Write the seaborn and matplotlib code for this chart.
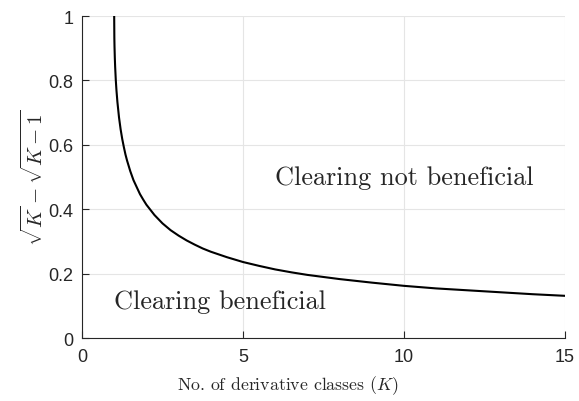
import matplotlib
matplotlib.use("Agg")
import matplotlib.pyplot as plt
import seaborn as sns

k_vals = [1, 1.005, 1.01, 1.02, 1.03, 1.05, 1.07, 1.1, 1.15, 1.2, 1.25, 1.3,
          1.35, 1.4, 1.5, 1.6, 1.8, 1.9, 2, 2.25, 2.5, 2.75, 3, 3.25, 3.5,
          3.75, 4, 4.5, 5, 5.5, 6, 6.5, 7, 8, 9, 10, 11, 12, 13, 14, 15]
y_vals = [1.0, 0.932, 0.905, 0.869, 0.842, 0.801, 0.770, 0.733, 0.685, 0.648,
          0.618, 0.593, 0.570, 0.551, 0.518, 0.490, 0.447, 0.430, 0.414, 0.382,
          0.356, 0.335, 0.318, 0.303, 0.290, 0.278, 0.268, 0.251, 0.236, 0.224,
          0.213, 0.204, 0.196, 0.183, 0.172, 0.162, 0.154, 0.148, 0.142, 0.136,
          0.131]

x_ticks = [0, 5, 10, 15]
y_ticks = [0, 0.2, 0.4, 0.6, 0.8, 1]
y_tick_labels = ["0", "0.2", "0.4", "0.6", "0.8", "1"]

sns.set_style("whitegrid")
plt.rcParams["mathtext.fontset"] = "cm"
plt.rcParams["axes.unicode_minus"] = False

fig = plt.figure(figsize=(5.79, 4.02), dpi=100)
ax = fig.add_axes([0.1416, 0.1567, 0.8342, 0.801])

sns.lineplot(x=k_vals, y=y_vals, sort=False, color="black", linewidth=1.5, ax=ax)

ax.set_xlim(0, 15)
ax.set_ylim(0, 1)
ax.set_xticks(x_ticks)
ax.set_xticklabels([str(t) for t in x_ticks])
ax.set_yticks(y_ticks)
ax.set_yticklabels(y_tick_labels)

ax.grid(True, color="#e5e5e5", linewidth=0.8)
for s in ["top", "right"]:
    ax.spines[s].set_visible(False)
for s in ["left", "bottom"]:
    ax.spines[s].set_color("#262626")
    ax.spines[s].set_linewidth(0.8)

ax.tick_params(direction="in", length=5, width=0.8, color="#262626",
               labelcolor="#262626", labelsize=13, left=True, bottom=True)
ax.tick_params(axis="x", pad=7)
ax.tick_params(axis="y", pad=6)
for lab in ax.get_xticklabels() + ax.get_yticklabels():
    lab.set_family("Liberation Sans")

ax.set_xlabel("No. of derivative classes $(K)$", family="cmr10",
              fontsize=12.8, color="#262626")
ax.xaxis.set_label_coords(0.4265, -0.108)
ax.set_ylabel(r"$\sqrt{K}-\sqrt{K-1}$", fontsize=15, color="#262626")
ax.yaxis.set_label_coords(-0.072, 0.5)

ax.text(6, 0.5, "Clearing not beneficial", family="cmr10", fontsize=18.9,
        va="center", ha="left")
ax.text(1, 0.113, "Clearing beneficial", family="cmr10", fontsize=18.9,
        va="center", ha="left")

fig.savefig("out.png", dpi=100)
